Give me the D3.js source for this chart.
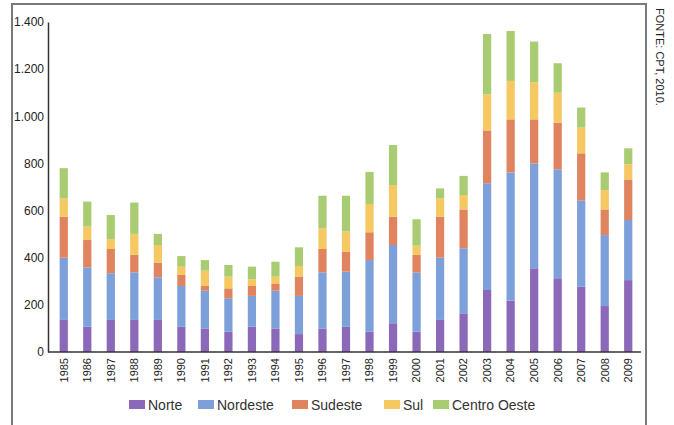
<!DOCTYPE html>
<html lang="pt">
<head>
    <meta charset="UTF-8">
    <script src="https://d3js.org/d3.v7.min.js"></script>
    <title>Conflitos no campo por região</title>
    <style>
        body { margin: 0; background: #fff; }
        svg { display: block; font-family: "Liberation Sans", Arial, sans-serif; }
    </style>
</head>
<body>
<script>
    // dados (FONTE: CPT, 2010)
    const years = ["1985","1986","1987","1988","1989","1990","1991","1992","1993","1994","1995","1996","1997",
                   "1998","1999","2000","2001","2002","2003","2004","2005","2006","2007","2008","2009"];
    const norte       = [136,107,136,136,136,107,100, 86,107,100, 76,100,107, 86,122, 86,136,164,263,218,355,313,277,195,305];
    const nordeste    = [264,252,198,202,181,173,160,142,131,160,162,238,234,304,332,252,264,276,453,544,445,462,365,301,255];
    const sudeste     = [174,116,103, 74, 62, 47, 20, 42, 42, 31, 82, 99, 85,118,120, 74,174,165,224,225,187,198,201,109,172];
    const sul         = [ 78, 57, 42, 89, 75, 35, 65, 50, 28, 29, 45, 88, 85,120,134, 39, 78, 61,153,163,157,127,109, 82, 64];
    const centroOeste = [128,106,102,133, 47, 45, 45, 49, 54, 63, 79,138,152,136,170,112, 42, 81,256,212,173,125, 85, 75, 68];
    const yTicks = [0, 200, 400, 600, 800, 1000, 1200, 1400];

    const seriesNames = ["Norte", "Nordeste", "Sudeste", "Sul", "Centro Oeste"];
    const seriesValues = [norte, nordeste, sudeste, sul, centroOeste];
    const colors = ["#8c69b8", "#7d9fda", "#e0835f", "#f5c862", "#a9cc72"];

    const width = 674, height = 425;

    const rows = years.map((y, i) => {
        const r = { year: y };
        seriesNames.forEach((s, k) => r[s] = seriesValues[k][i]);
        return r;
    });

    const stacked = d3.stack().keys(seriesNames)(rows);

    const svg = d3.select("body").append("svg")
        .attr("width", width)
        .attr("height", height);

    // moldura
    svg.append("path")
        .attr("d", "M12,425 V4 H646 V425")
        .attr("fill", "none")
        .attr("stroke", "#7a7a7a")
        .attr("stroke-width", 2);

    const x = d3.scaleBand()
        .domain(years)
        .range([52, 640])
        .paddingInner(0.65)
        .paddingOuter(0.325);

    const y = d3.scaleLinear()
        .domain([0, 1400])
        .range([352, 22]);

    const locale = d3.formatLocale({ decimal: ",", thousands: ".", grouping: [3], currency: ["R$", ""] });
    const fmt = locale.format(",d");

    // barras empilhadas
    svg.append("g")
        .selectAll("g")
        .data(stacked)
        .join("g")
        .attr("fill", (d, i) => colors[i])
        .selectAll("rect")
        .data(d => d)
        .join("rect")
        .attr("x", d => x(d.data.year))
        .attr("y", d => y(d[1]))
        .attr("width", x.bandwidth())
        .attr("height", d => y(d[0]) - y(d[1]));

    // eixo y
    const yAxis = svg.append("g")
        .attr("transform", "translate(48,0)")
        .call(d3.axisLeft(y).tickValues(yTicks).tickFormat(fmt).tickSize(0).tickPadding(4));
    yAxis.select(".domain").attr("stroke", "#333").attr("stroke-width", 1.5);
    yAxis.selectAll("text")
        .attr("font-size", 12)
        .attr("fill", "#222")
        .attr("font-family", "Liberation Sans, Arial, sans-serif");

    // eixo x
    const xAxis = svg.append("g")
        .attr("transform", "translate(0,352)")
        .call(d3.axisBottom(x).tickSize(0).tickSizeOuter(0));
    xAxis.select(".domain").attr("d", "M48,0H641").attr("stroke", "#333").attr("stroke-width", 1.5);
    xAxis.selectAll("text")
        .attr("font-size", 11)
        .attr("fill", "#222")
        .attr("font-family", "Liberation Sans, Arial, sans-serif")
        .attr("text-anchor", "end")
        .attr("transform", "rotate(-90)")
        .attr("x", -6)
        .attr("y", 0)
        .attr("dy", "0.35em");

    // legenda
    const legendX = [129, 198, 292, 384, 433];
    const legend = svg.append("g")
        .selectAll("g")
        .data(seriesNames)
        .join("g")
        .attr("transform", (d, i) => `translate(${legendX[i]},400)`);
    legend.append("rect")
        .attr("width", 16)
        .attr("height", 9)
        .attr("fill", (d, i) => colors[i]);
    legend.append("text")
        .attr("x", 19)
        .attr("y", 10)
        .attr("font-size", 14)
        .attr("fill", "#333")
        .text(d => d);

    // fonte
    svg.append("text")
        .attr("transform", "translate(656,8) rotate(90)")
        .attr("font-size", 11)
        .attr("fill", "#222")
        .text("FONTE: CPT, 2010.");
</script>
</body>
</html>
